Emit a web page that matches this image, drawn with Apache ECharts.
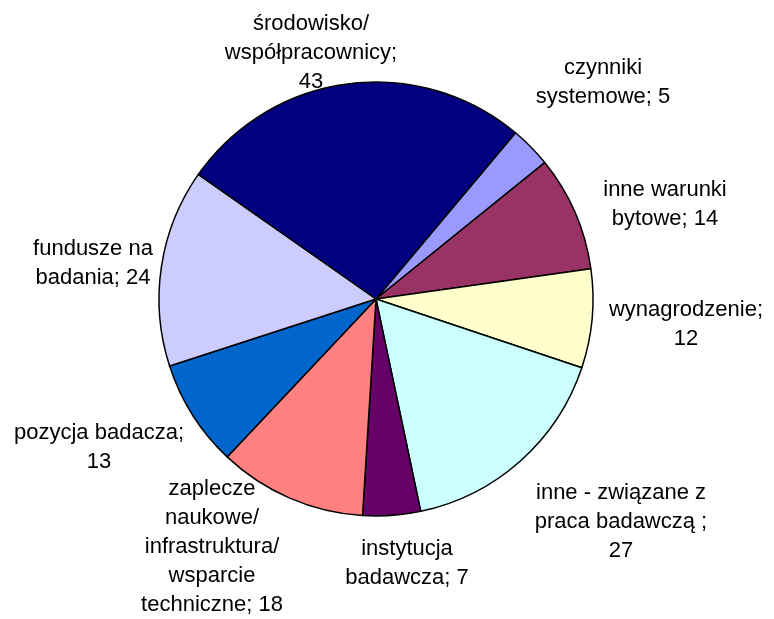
<!DOCTYPE html>
<html>
<head>
<meta charset="utf-8">
<title>pie</title>
<script src="https://cdn.jsdelivr.net/npm/echarts@6/dist/echarts.min.js"></script>
</head>
<body style="margin:0;background:#fff;overflow:hidden;">
<div id="main" style="width:774px;height:619px;"></div>
<script type="text/javascript">
// dane (kolejność jak w arkuszu)
var names = [
	'czynniki\nsystemowe',
	'inne warunki\nbytowe',
	'wynagrodzenie',
	'inne - związane z\npraca badawczą ',
	'instytucja\nbadawcza',
	'zaplecze\nnaukowe/\ninfrastruktura/\nwsparcie\ntechniczne',
	'pozycja badacza',
	'fundusze na\nbadania',
	'środowisko/\nwspółpracownicy'
];
var values = [5, 14, 12, 27, 7, 18, 13, 24, 43];
// czy wartość w osobnej linii
var valueNewLine = [false, false, true, true, false, false, true, false, true];
var colors = ['#9999FF', '#993366', '#FFFFCC', '#CCFFFF', '#660066', '#FF8080', '#0066CC', '#CCCCFF', '#000080'];

// środki etykiet
var labelPos = [
	[603, 82], [665, 204], [686, 324], [621, 522], [407, 563],
	[212, 547], [99, 447], [93, 263], [311, 53]
];

var data = [];
for (var i = 0; i < values.length; i++) {
	data.push({ name: names[i], value: values[i], itemStyle: { color: colors[i] } });
}

var myChart = echarts.init(document.getElementById('main'));
var option = {
	backgroundColor: '#ffffff',
	animation: false,
	series: [{
		type: 'pie',
		center: [376, 299],
		radius: 217,
		startAngle: 50,
		clockwise: true,
		data: data,
		itemStyle: { borderColor: '#000', borderWidth: 1.5 },
		label: {
			show: true,
			position: 'outside',
			color: '#000',
			fontFamily: 'Liberation Sans, Arial, sans-serif',
			fontSize: 22,
			lineHeight: 29,
			align: 'center',
			overflow: 'none',
			edgeDistance: 0,
			bleedMargin: 0,
			formatter: function (p) {
				return p.name + (valueNewLine[p.dataIndex] ? ';\n' : '; ') + p.value;
			}
		},
		labelLine: { show: false },
		labelLayout: function (p) {
			var pos = labelPos[p.dataIndex];
			return { x: pos[0], y: pos[1], align: 'center', verticalAlign: 'middle' };
		},
		emphasis: { disabled: true }
	}]
};
myChart.setOption(option);
</script>
</body>
</html>
